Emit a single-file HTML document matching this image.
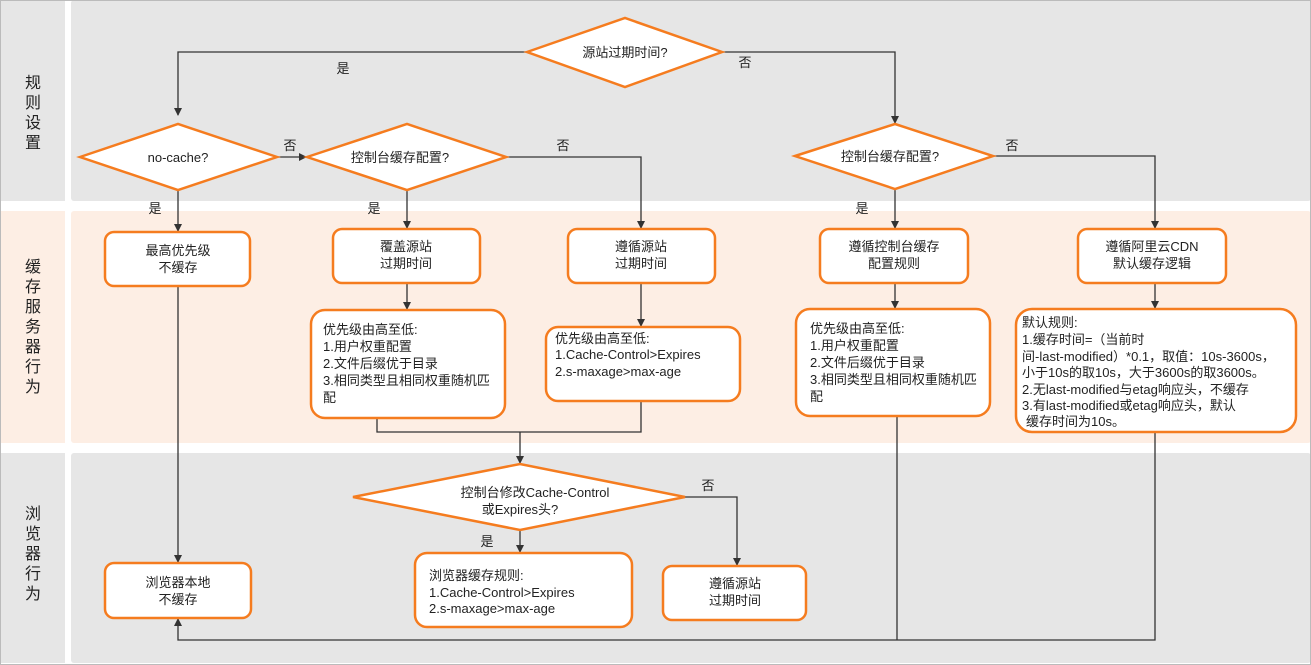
<!DOCTYPE html>
<html><head><meta charset="utf-8"><style>
html,body{margin:0;padding:0;background:#fff;}
svg{display:block;font-family:"Liberation Sans","Noto Sans CJK SC",sans-serif;}
</style></head><body>
<svg width="1311" height="665" viewBox="0 0 1311 665" xmlns="http://www.w3.org/2000/svg">
<defs><marker id="a" markerWidth="8" markerHeight="8" refX="7" refY="4" orient="auto" markerUnits="userSpaceOnUse"><path d="M0,0 L8,4 L0,8 z" fill="#333"/></marker></defs>
<rect x="0" y="0" width="1311" height="665" fill="#fff"/>
<rect x="0" y="0" width="65" height="201" fill="#e6e6e6"/>
<rect x="71" y="0" width="1240" height="201" rx="3" fill="#e6e6e6"/>
<rect x="0" y="211" width="65" height="232" fill="#fdeee4"/>
<rect x="71" y="211" width="1240" height="232" rx="3" fill="#fdeee4"/>
<rect x="0" y="453" width="65" height="210" fill="#e6e6e6"/>
<rect x="71" y="453" width="1240" height="210" rx="3" fill="#e6e6e6"/>
<rect x="0.5" y="0.5" width="1310" height="664" fill="none" stroke="#bbb"/>
<g font-size="16" fill="#222" text-anchor="middle">
<text x="33" y="88">规</text><text x="33" y="108">则</text><text x="33" y="128">设</text><text x="33" y="148">置</text>
<text x="33" y="272">缓</text><text x="33" y="292">存</text><text x="33" y="312">服</text><text x="33" y="332">务</text><text x="33" y="352">器</text><text x="33" y="372">行</text><text x="33" y="392">为</text>
<text x="33" y="519">浏</text><text x="33" y="539">览</text><text x="33" y="559">器</text><text x="33" y="579">行</text><text x="33" y="599">为</text>
</g>
<g stroke="#333" stroke-width="1.3" fill="none">
<polyline points="527,52 178,52 178,115" marker-end="url(#a)"/>
<polyline points="722,52 895,52 895,123" marker-end="url(#a)"/>
<line x1="277" y1="157" x2="306" y2="157" marker-end="url(#a)"/>
<polyline points="506,157 641,157 641,228" marker-end="url(#a)"/>
<line x1="407" y1="190" x2="407" y2="228" marker-end="url(#a)"/>
<line x1="178" y1="190" x2="178" y2="231" marker-end="url(#a)"/>
<line x1="895" y1="189" x2="895" y2="228" marker-end="url(#a)"/>
<polyline points="993,156 1155,156 1155,228" marker-end="url(#a)"/>
<line x1="407" y1="283" x2="407" y2="309" marker-end="url(#a)"/>
<line x1="641" y1="283" x2="641" y2="326" marker-end="url(#a)"/>
<line x1="895" y1="283" x2="895" y2="308" marker-end="url(#a)"/>
<line x1="1155" y1="283" x2="1155" y2="308" marker-end="url(#a)"/>
<line x1="178" y1="286" x2="178" y2="562" marker-end="url(#a)"/>
<polyline points="377,418 377,432 641,432 641,401"/>
<line x1="520" y1="432" x2="520" y2="463" marker-end="url(#a)"/>
<polyline points="685,497 737,497 737,565" marker-end="url(#a)"/>
<line x1="520" y1="530" x2="520" y2="552" marker-end="url(#a)"/>
<line x1="897" y1="416" x2="897" y2="640"/>
<polyline points="1155,432 1155,640 178,640 178,619" marker-end="url(#a)"/>
</g>
<g stroke="#f57c1f" stroke-width="2.5" fill="#fff">
<polygon points="527,52 625,18 722,52 625,87"/>
<polygon points="80,157 178,124 277,157 178,190"/>
<polygon points="307,157 407,124 506,157 407,190"/>
<polygon points="795,156 895,124 993,156 895,189"/>
<polygon points="353,497 520,464 685,497 520,530"/>
<rect x="105" y="232" width="145" height="54" rx="9"/>
<rect x="333" y="229" width="147" height="54" rx="9"/>
<rect x="568" y="229" width="147" height="54" rx="9"/>
<rect x="820" y="229" width="148" height="54" rx="9"/>
<rect x="1078" y="229" width="148" height="54" rx="9"/>
<rect x="311" y="310" width="194" height="108" rx="14"/>
<rect x="546" y="327" width="194" height="74" rx="12"/>
<rect x="796" y="309" width="194" height="107" rx="14"/>
<rect x="1016" y="309" width="280" height="123" rx="16"/>
<rect x="105" y="563" width="146" height="55" rx="9"/>
<rect x="415" y="553" width="217" height="74" rx="12"/>
<rect x="663" y="566" width="143" height="54" rx="9"/>
</g>
<g font-size="13" fill="#222" text-anchor="middle">
<text x="625" y="57">源站过期时间?</text>
<text x="178" y="162">no-cache?</text>
<text x="400" y="162">控制台缓存配置?</text>
<text x="890" y="161">控制台缓存配置?</text>
<text x="535" y="497">控制台修改Cache-Control</text>
<text x="520" y="514">或Expires头?</text>
<text x="178" y="255">最高优先级</text><text x="178" y="272">不缓存</text>
<text x="406" y="251">覆盖源站</text><text x="406" y="268">过期时间</text>
<text x="641" y="251">遵循源站</text><text x="641" y="268">过期时间</text>
<text x="894" y="251">遵循控制台缓存</text><text x="894" y="268">配置规则</text>
<text x="1152" y="251">遵循阿里云CDN</text><text x="1152" y="268">默认缓存逻辑</text>
<text x="178" y="587">浏览器本地</text><text x="178" y="604">不缓存</text>
<text x="735" y="588">遵循源站</text><text x="735" y="605">过期时间</text>
<text x="343" y="73">是</text><text x="745" y="67">否</text>
<text x="290" y="150">否</text><text x="563" y="150">否</text>
<text x="155" y="213">是</text><text x="374" y="213">是</text>
<text x="862" y="213">是</text><text x="1012" y="150">否</text>
<text x="708" y="490">否</text><text x="487" y="546">是</text>
</g>
<g font-size="13" fill="#222">
<text x="323" y="334">优先级由高至低:</text>
<text x="323" y="351">1.用户权重配置</text>
<text x="323" y="368">2.文件后缀优于目录</text>
<text x="323" y="385">3.相同类型且相同权重随机匹</text>
<text x="323" y="402">配</text>
<text x="555" y="343">优先级由高至低:</text>
<text x="555" y="359">1.Cache-Control&gt;Expires</text>
<text x="555" y="376">2.s-maxage&gt;max-age</text>
<text x="810" y="333">优先级由高至低:</text>
<text x="810" y="350">1.用户权重配置</text>
<text x="810" y="367">2.文件后缀优于目录</text>
<text x="810" y="384">3.相同类型且相同权重随机匹</text>
<text x="810" y="401">配</text>
<text x="1022" y="327">默认规则:</text>
<text x="1022" y="344">1.缓存时间=（当前时</text>
<text x="1022" y="361">间-last-modified）*0.1，取值：10s-3600s，</text>
<text x="1022" y="377">小于10s的取10s，大于3600s的取3600s。</text>
<text x="1022" y="394">2.无last-modified与etag响应头，不缓存</text>
<text x="1022" y="410">3.有last-modified或etag响应头，默认</text>
<text x="1026" y="426">缓存时间为10s。</text>
<text x="429" y="580">浏览器缓存规则:</text>
<text x="429" y="597">1.Cache-Control&gt;Expires</text>
<text x="429" y="613">2.s-maxage&gt;max-age</text>
</g>
</svg>
</body></html>
